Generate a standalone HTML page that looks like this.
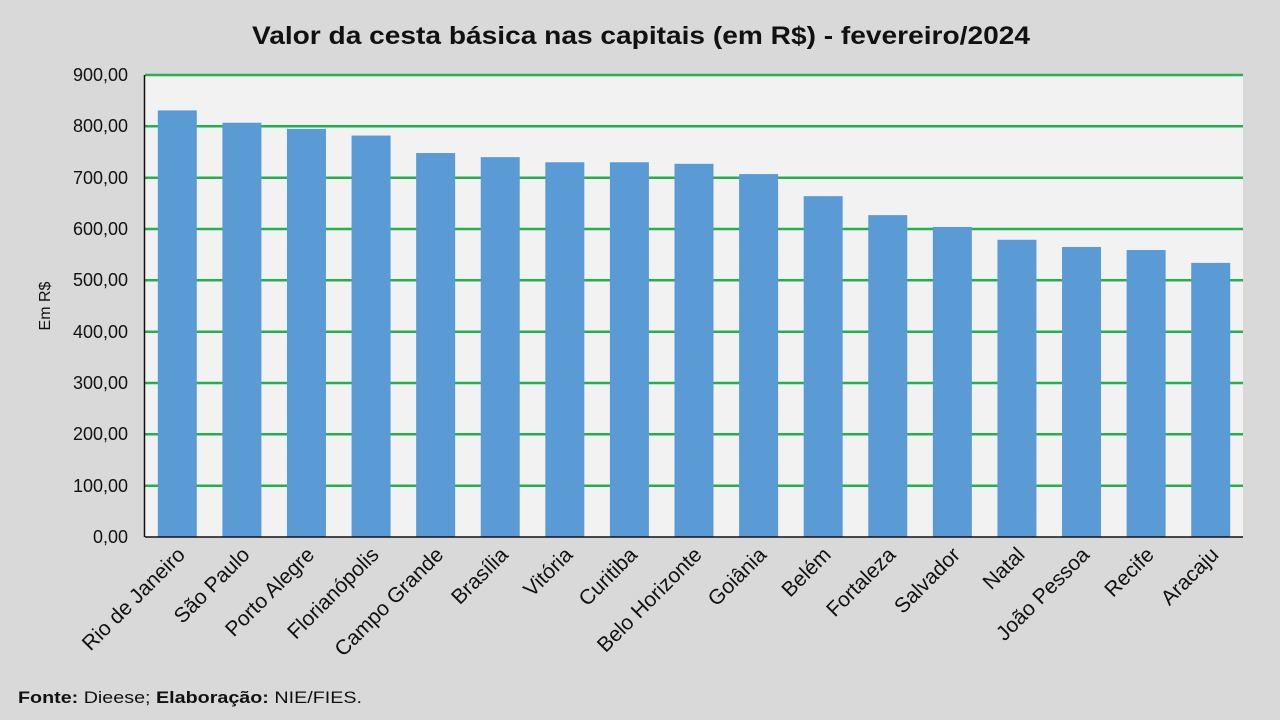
<!DOCTYPE html>
<html><head><meta charset="utf-8"><style>
html,body{margin:0;padding:0;background:#d9d9d9;}
svg{display:block;font-family:"Liberation Sans","DejaVu Sans",sans-serif;}
</style></head><body>
<svg width="1280" height="720" viewBox="0 0 1280 720">
<rect width="1280" height="720" fill="#d9d9d9"/>
<text x="641" y="44" text-anchor="middle" font-size="25" font-weight="bold" fill="#111" textLength="778" lengthAdjust="spacingAndGlyphs">Valor da cesta básica nas capitais (em R$) - fevereiro/2024</text>
<rect x="145" y="75" width="1098" height="462" fill="#f2f2f2"/>
<g stroke="#22b14c" stroke-width="2.5">
<line x1="145" x2="1243" y1="75" y2="75"/>
<line x1="145" x2="1243" y1="126.3" y2="126.3"/>
<line x1="145" x2="1243" y1="177.7" y2="177.7"/>
<line x1="145" x2="1243" y1="229" y2="229"/>
<line x1="145" x2="1243" y1="280.3" y2="280.3"/>
<line x1="145" x2="1243" y1="331.7" y2="331.7"/>
<line x1="145" x2="1243" y1="383" y2="383"/>
<line x1="145" x2="1243" y1="434.3" y2="434.3"/>
<line x1="145" x2="1243" y1="485.7" y2="485.7"/>
</g>
<g font-size="18" fill="#111" text-anchor="end">
<text x="128" y="81">900,00</text><text x="128" y="132">800,00</text><text x="128" y="184">700,00</text><text x="128" y="235">600,00</text><text x="128" y="286">500,00</text><text x="128" y="338">400,00</text><text x="128" y="389">300,00</text><text x="128" y="440">200,00</text><text x="128" y="492">100,00</text><text x="128" y="543">0,00</text>
</g>
<text transform="translate(50,306) rotate(-90)" text-anchor="middle" font-size="16" fill="#111">Em R$</text>
<g id="bars" fill="#5b9bd5"></g>
<line x1="145" x2="1243" y1="537" y2="537" stroke="#111" stroke-width="1.5"/>
<line x1="144.5" x2="144.5" y1="75" y2="537" stroke="#111" stroke-width="1.5"/>
<g id="labels" font-size="21" fill="#111" text-anchor="end"></g>
<text x="18" y="703" font-size="17" fill="#111" textLength="344" lengthAdjust="spacingAndGlyphs"><tspan font-weight="bold">Fonte:</tspan> Dieese; <tspan font-weight="bold">Elaboração:</tspan> NIE/FIES.</text>
<script>
var d=[["Rio de Janeiro",831],["São Paulo",807],["Porto Alegre",795],["Florianópolis",782],["Campo Grande",748],["Brasília",740],["Vitória",730],["Curitiba",730],["Belo Horizonte",727],["Goiânia",707],["Belém",664],["Fortaleza",627],["Salvador",604],["Natal",579],["João Pessoa",565],["Recife",559],["Aracaju",534]];
var ns="http://www.w3.org/2000/svg",b=document.getElementById("bars"),l=document.getElementById("labels");
var s=1098/17;
d.forEach(function(e,i){var c=145+s*(i+0.5);var h=e[1]*462/900;
var r=document.createElementNS(ns,"rect");r.setAttribute("x",c-19.5);r.setAttribute("width",39);r.setAttribute("y",537-h);r.setAttribute("height",h);b.appendChild(r);
var t=document.createElementNS(ns,"text");t.setAttribute("transform","translate("+(c+9)+",556) rotate(-45)");t.textContent=e[0];l.appendChild(t);});
</script>
</svg>
</body></html>
